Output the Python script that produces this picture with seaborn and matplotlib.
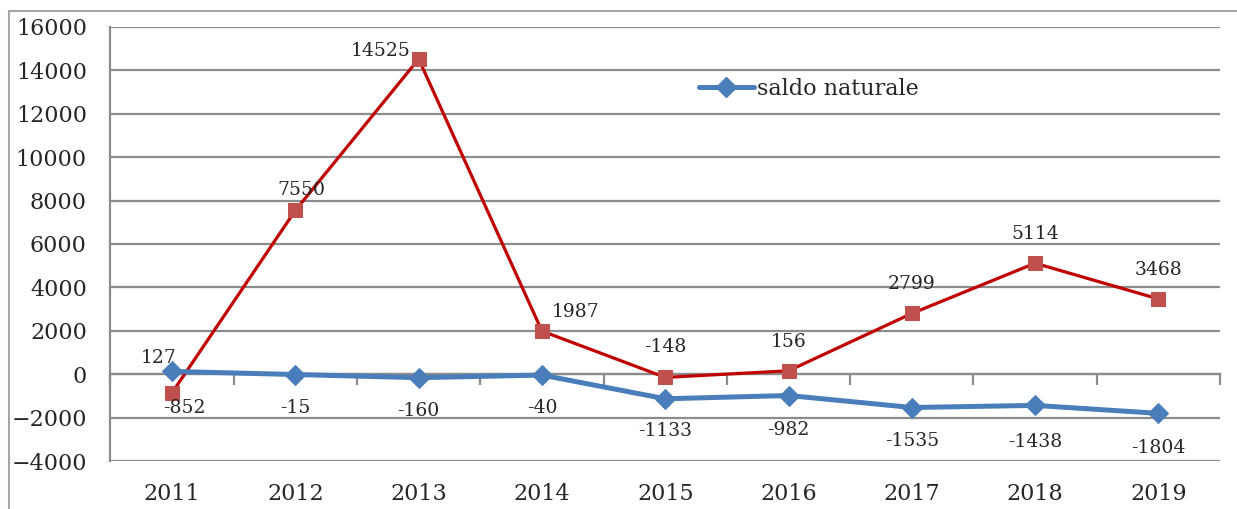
import pandas as pd
import seaborn as sns
import matplotlib.pyplot as plt
from matplotlib.lines import Line2D
from matplotlib.patches import Rectangle

# chart values
years = ['2011', '2012', '2013', '2014', '2015', '2016', '2017', '2018', '2019']
saldo_naturale = [127, -15, -160, -40, -1133, -982, -1535, -1438, -1804]
saldo_migratorio = [-852, 7550, 14525, 1987, -148, 156, 2799, 5114, 3468]

blue = '#4A7EBB'
red_line = '#C00000'
red_marker = '#C0504D'
grid_col = '#8C8C8C'

sns.set_style('white')
plt.rcParams['font.family'] = ['DejaVu Serif']

df = pd.DataFrame({'year': years, 'naturale': saldo_naturale, 'migratorio': saldo_migratorio})

fig = plt.figure(figsize=(12.37, 5.09), dpi=100)
ax = fig.add_axes([0.0893, 0.0943, 0.8970, 0.8527])

sns.lineplot(data=df, x='year', y='migratorio', ax=ax, color=red_line, lw=2.3,
             marker='s', markersize=10, markerfacecolor=red_marker, markeredgecolor=red_marker,
             zorder=3)
sns.lineplot(data=df, x='year', y='naturale', ax=ax, color=blue, lw=3.6,
             marker='D', markersize=10, markerfacecolor=blue, markeredgecolor=blue,
             zorder=4)

ax.set_xlim(-0.5, len(years) - 0.5)
ax.set_ylim(-4000, 16000)
ax.set_yticks(range(-4000, 16001, 2000))
ax.set_xlabel('')
ax.set_ylabel('')

# gridlines
ax.yaxis.grid(True, color=grid_col, lw=1.6)
ax.set_axisbelow(True)
for s in ['top', 'right', 'bottom']:
    ax.spines[s].set_visible(False)
ax.spines['left'].set_color(grid_col)
ax.spines['left'].set_linewidth(1.6)

ax.tick_params(axis='y', length=8, width=1.6, color=grid_col, pad=9, labelsize=16)
ax.tick_params(axis='x', length=0, pad=16, labelsize=16)

# horizontal axis at zero with category separators
sec = ax.secondary_xaxis(0.2)
sec.set_xticks([i + 0.5 for i in range(-1, len(years))])
sec.tick_params(length=8, width=1.6, color=grid_col, labelbottom=False)
sec.spines['bottom'].set_color(grid_col)
sec.spines['bottom'].set_linewidth(1.6)

# data labels (offsets in points)
nat_off = [(-10, 10), (0, -24), (0, -24), (0, -24), (0, -23), (0, -25), (0, -24), (0, -26), (0, -25)]
mig_off = [(9, -11), (4, 15), (-27, 6), (24, 14), (0, 22), (0, 21), (0, 21), (0, 21), (0, 21)]
for i, v in enumerate(saldo_naturale):
    ax.annotate(str(v), (i, v), xytext=nat_off[i], textcoords='offset points',
                ha='center', va='center', fontsize=13.5)
for i, v in enumerate(saldo_migratorio):
    ax.annotate(str(v), (i, v), xytext=mig_off[i], textcoords='offset points',
                ha='center', va='center', fontsize=13.5)

# legend
handle = Line2D([], [], color=blue, lw=3.6, marker='D', markersize=10)
ax.legend([handle], ['saldo naturale'], loc='center left', bbox_to_anchor=(0.52, 0.857),
          frameon=False, fontsize=16, handlelength=2.5, handletextpad=0.15, borderpad=0)

# outer frame of the chart area
fig.patches.append(Rectangle((0.0073, -0.1), 1.2, 1.078, transform=fig.transFigure,
                             fill=False, edgecolor='#A6A6A6', lw=1.5))

fig.savefig('out.png', dpi=100)
